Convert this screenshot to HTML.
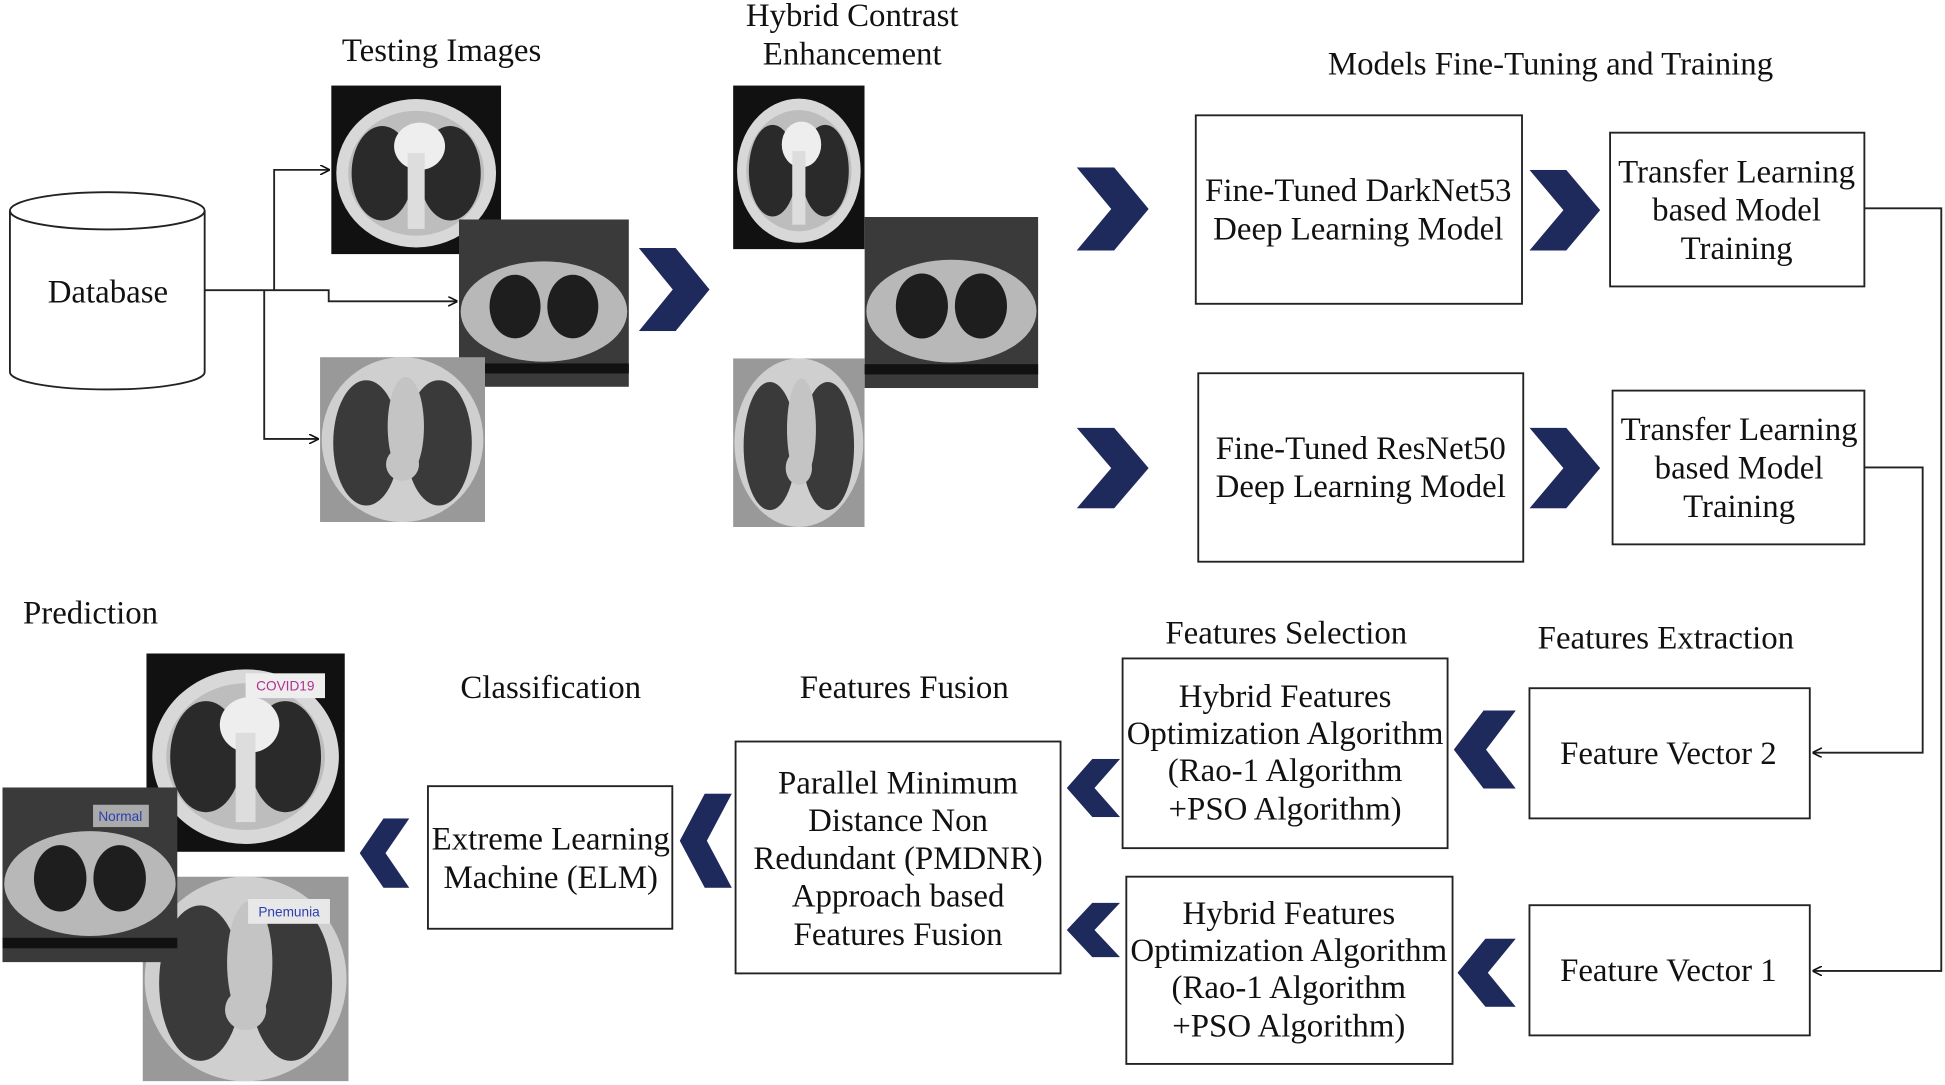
<!DOCTYPE html>
<html><head><meta charset="utf-8"><style>
html,body{margin:0;padding:0;background:#fff;}
svg{display:block;}
text{font-family:"Liberation Serif",serif;font-size:26.5px;fill:#111;text-anchor:middle;}
.s{font-family:"Liberation Sans",sans-serif;font-size:11px;text-anchor:middle;}
</style></head><body>
<svg width="1945" height="1085" viewBox="0 0 1568 875" preserveAspectRatio="none" xmlns="http://www.w3.org/2000/svg">
<defs>
<symbol id="ct" viewBox="0 0 100 100" preserveAspectRatio="none">
<rect width="100" height="100" fill="#111"/>
<ellipse cx="50" cy="52" rx="47" ry="44" fill="#d8d8d8"/>
<ellipse cx="50" cy="52" rx="40" ry="37" fill="#bdbdbd"/>
<ellipse cx="30" cy="52" rx="18" ry="28" fill="#2a2a2a"/>
<ellipse cx="70" cy="52" rx="18" ry="28" fill="#2a2a2a"/>
<ellipse cx="52" cy="36" rx="15" ry="14" fill="#eee"/>
<rect x="45" y="40" width="10" height="45" fill="#ddd"/>
</symbol>
<symbol id="ct2" viewBox="0 0 100 100" preserveAspectRatio="none">
<rect width="100" height="100" fill="#3a3a3a"/>
<ellipse cx="50" cy="55" rx="49" ry="30" fill="#b8b8b8"/>
<ellipse cx="33" cy="52" rx="15" ry="19" fill="#1e1e1e"/>
<ellipse cx="67" cy="52" rx="15" ry="19" fill="#1e1e1e"/>
<rect x="0" y="86" width="100" height="6" fill="#111"/>
</symbol>
<symbol id="ct3" viewBox="0 0 100 100" preserveAspectRatio="none">
<rect width="100" height="100" fill="#999"/>
<ellipse cx="50" cy="50" rx="49" ry="50" fill="#cfcfcf"/>
<ellipse cx="28" cy="52" rx="20" ry="38" fill="#3a3a3a"/>
<ellipse cx="72" cy="52" rx="20" ry="38" fill="#3a3a3a"/>
<ellipse cx="52" cy="42" rx="11" ry="30" fill="#c4c4c4"/>
<ellipse cx="50" cy="65" rx="10" ry="10" fill="#c4c4c4"/>
</symbol>
<symbol id="chr" viewBox="0 0 100 100" preserveAspectRatio="none">
<polygon points="0,0 52,0 100,50 52,100 0,100 48,50" fill="#1f2a5c"/>
</symbol>
<symbol id="chl" viewBox="0 0 100 100" preserveAspectRatio="none">
<polygon points="100,0 48,0 0,50 48,100 100,100 52,50" fill="#1f2a5c"/>
</symbol>
<marker id="ar" markerWidth="8" markerHeight="8" refX="7" refY="4" orient="auto" markerUnits="userSpaceOnUse"><path d="M0,0 L8,4 L0,8" fill="none" stroke="#111" stroke-width="1.3"/></marker>
</defs>
<g fill="none" stroke="#222" stroke-width="1.5">
<path d="M8,170 L8,300 A78,14 0 0 0 165,300 L165,170"/>
<ellipse cx="86.5" cy="170" rx="78.5" ry="15"/>
<polyline points="165,234 265,234 265,243 368,243" marker-end="url(#ar)"/>
<polyline points="221,234 221,137 265,137" marker-end="url(#ar)"/>
<polyline points="213,234 213,354 256,354" marker-end="url(#ar)"/>
<rect x="964" y="93" width="263" height="152"/>
<rect x="966" y="301" width="262" height="152"/>
<rect x="1298" y="107" width="205" height="124"/>
<rect x="1300" y="315" width="203" height="124"/>
<polyline points="1503,168 1565,168 1565,783 1462,783" marker-end="url(#ar)"/>
<polyline points="1503,377 1550,377 1550,607 1462,607" marker-end="url(#ar)"/>
<rect x="1233" y="555" width="226" height="105"/>
<rect x="1233" y="730" width="226" height="105"/>
<rect x="905" y="531" width="262" height="153"/>
<rect x="908" y="707" width="263" height="151"/>
<rect x="593" y="598" width="262" height="187"/>
<rect x="345" y="634" width="197" height="115"/>
</g>
<use href="#ct" x="267" y="69" width="137" height="136"/>
<use href="#ct2" x="370" y="177" width="137" height="135"/>
<use href="#ct3" x="258" y="288" width="133" height="133"/>
<use href="#ct" x="591" y="69" width="106" height="132"/>
<use href="#ct2" x="697" y="175" width="140" height="138"/>
<use href="#ct3" x="591" y="289" width="106" height="136"/>
<use href="#ct" x="118" y="527" width="160" height="160"/>
<use href="#ct3" x="115" y="707" width="166" height="165"/>
<use href="#ct2" x="2" y="635" width="141" height="141"/>
<rect x="198" y="543" width="64" height="20" fill="#eee"/><text class="s" x="230" y="557" style="fill:#b03090">COVID19</text>
<rect x="75" y="649" width="45" height="18" fill="#aaa"/><text class="s" x="97" y="662" style="fill:#2a3fb0">Normal</text>
<rect x="200" y="725" width="66" height="20" fill="#e8e8e8"/><text class="s" x="233" y="739" style="fill:#2a3fb0">Pnemunia</text>
<use href="#chr" x="515" y="200" width="57" height="67"/>
<use href="#chr" x="868" y="135" width="58" height="67"/>
<use href="#chr" x="868" y="345" width="58" height="65"/>
<use href="#chr" x="1233" y="137" width="57" height="65"/>
<use href="#chr" x="1233" y="345" width="57" height="65"/>
<use href="#chl" x="1172" y="573" width="50" height="63"/>
<use href="#chl" x="1175" y="757" width="47" height="55"/>
<use href="#chl" x="860" y="612" width="43" height="47"/>
<use href="#chl" x="860" y="728" width="43" height="44"/>
<use href="#chl" x="548" y="640" width="42" height="76"/>
<use href="#chl" x="290" y="660" width="40" height="56"/>
<text x="87" y="244">Database</text>
<text x="356" y="49">Testing Images</text>
<text x="687" y="21">Hybrid Contrast</text>
<text x="687" y="52">Enhancement</text>
<text x="1250" y="60">Models Fine-Tuning and Training</text>
<text x="1095" y="162">Fine-Tuned DarkNet53</text>
<text x="1095" y="193">Deep Learning Model</text>
<text x="1097" y="370">Fine-Tuned ResNet50</text>
<text x="1097" y="401">Deep Learning Model</text>
<text x="1400" y="147">Transfer Learning</text>
<text x="1400" y="178">based Model</text>
<text x="1400" y="209">Training</text>
<text x="1402" y="355">Transfer Learning</text>
<text x="1402" y="386">based Model</text>
<text x="1402" y="417">Training</text>
<text x="1343" y="523">Features Extraction</text>
<text x="1345" y="616">Feature Vector 2</text>
<text x="1345" y="791">Feature Vector 1</text>
<text x="1037" y="519">Features Selection</text>
<text x="1036" y="570">Hybrid Features</text>
<text x="1036" y="600">Optimization Algorithm</text>
<text x="1036" y="630">(Rao-1 Algorithm</text>
<text x="1036" y="661">+PSO Algorithm)</text>
<text x="1039" y="745">Hybrid Features</text>
<text x="1039" y="775">Optimization Algorithm</text>
<text x="1039" y="805">(Rao-1 Algorithm</text>
<text x="1039" y="836">+PSO Algorithm)</text>
<text x="729" y="563">Features Fusion</text>
<text x="724" y="640">Parallel Minimum</text>
<text x="724" y="670">Distance Non</text>
<text x="724" y="701">Redundant (PMDNR)</text>
<text x="724" y="731">Approach based</text>
<text x="724" y="762">Features Fusion</text>
<text x="444" y="563">Classification</text>
<text x="444" y="685">Extreme Learning</text>
<text x="444" y="716">Machine (ELM)</text>
<text x="73" y="503">Prediction</text>
</svg>
</body></html>
